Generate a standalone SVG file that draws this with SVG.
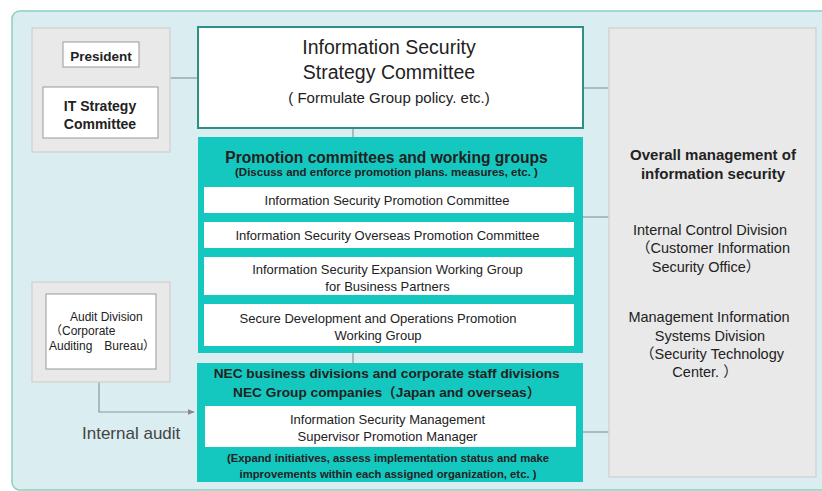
<svg xmlns="http://www.w3.org/2000/svg" width="822" height="491" viewBox="0 0 822 491">
<style>
text{font-family:"Liberation Sans",Arial,"Noto Sans CJK JP",sans-serif;fill:#222;text-anchor:middle}
.b{font-weight:bold}
.s{font-size:13px}
.gray{fill:#e9e9e9;stroke:#d3d3d3;stroke-width:1.5}
.wb{fill:#fff;stroke:#999;stroke-width:1}
.teal{fill:#14c8c0}
.sub{fill:#fff}
.ln{stroke:#8a9a9a;stroke-width:1.2;fill:none}
</style>
<defs>
<marker id="ah" viewBox="0 0 10 10" refX="9" refY="5" markerWidth="6" markerHeight="6" orient="auto">
<path d="M0,1 L10,5 L0,9 z" fill="#888"/>
</marker>
</defs>
<rect x="12" y="11" width="840" height="479" rx="8" fill="#daedf0" stroke="#8ccfc0" stroke-width="1.5"/>
<g id="connectors">
<line class="ln" x1="100" y1="67" x2="100" y2="87"/>
<line class="ln" x1="170" y1="78" x2="198" y2="78"/>
<line class="ln" x1="353" y1="128" x2="353" y2="137"/>
<line class="ln" x1="353" y1="353" x2="353" y2="363"/>
<line class="ln" x1="583" y1="88" x2="609" y2="88"/>
<line class="ln" x1="583" y1="217" x2="609" y2="217"/>
<line class="ln" x1="583" y1="432" x2="609" y2="432"/>
<path class="ln" d="M99,382 V412 H194" stroke="#888" marker-end="url(#ah)"/>
</g>
<g id="top-left">
<rect class="gray" x="32" y="28" width="138" height="124"/>
<g id="president">
<rect class="wb" x="63" y="42" width="76" height="25"/>
<text class="b" x="101" y="61" font-size="13.5">President</text>
</g>
<g id="it-strategy">
<rect class="wb" x="43" y="87" width="115" height="51"/>
<text class="b" x="100" y="111" font-size="14">IT Strategy</text>
<text class="b" x="100" y="129" font-size="14">Committee</text>
</g>
</g>
<g id="issc">
<rect x="198" y="27" width="385" height="101" fill="#fff" stroke="#2e8f86" stroke-width="2"/>
<text x="389" y="54" font-size="19.5">Information Security</text>
<text x="389" y="79" font-size="19.5">Strategy Committee</text>
<text x="389" y="103" font-size="15">( Formulate Group policy. etc.)</text>
</g>
<g id="promotion">
<rect class="teal" x="198" y="137" width="385" height="216"/>
<text class="b" x="386.5" y="162.5" font-size="15.6">Promotion committees and working groups</text>
<text class="b" x="386.5" y="176" font-size="11.5">(Discuss and enforce promotion plans. measures, etc. )</text>
<g id="ispc">
<rect class="sub" x="204" y="187" width="370" height="26"/>
<text class="s" x="387" y="204.5">Information Security Promotion Committee</text>
</g>
<g id="isopc">
<rect class="sub" x="204" y="222" width="370" height="26"/>
<text class="s" x="387.5" y="239.5">Information Security Overseas Promotion Committee</text>
</g>
<g id="isewg">
<rect class="sub" x="204" y="257" width="370" height="38"/>
<text class="s" x="387.5" y="273.5">Information Security Expansion Working Group</text>
<text class="s" x="387.5" y="290.5">for Business Partners</text>
</g>
<g id="sdopwg">
<rect class="sub" x="204" y="304" width="370" height="42"/>
<text class="s" x="378" y="322.5">Secure Development and Operations Promotion</text>
<text class="s" x="378" y="339.5">Working Group</text>
</g>
</g>
<g id="nec">
<rect class="teal" x="197" y="363" width="386" height="119"/>
<text class="b" x="386.7" y="378" font-size="13.7">NEC business divisions and corporate staff divisions</text>
<text class="b" x="386.7" y="397" font-size="13.7">NEC Group companies（Japan and overseas）</text>
<rect class="sub" x="205" y="406" width="371" height="41"/>
<text class="s" x="387.5" y="423.5">Information Security Management</text>
<text class="s" x="387.5" y="440.5">Supervisor Promotion Manager</text>
<text class="b" x="388" y="462" font-size="11.3">(Expand initiatives, assess implementation status and make</text>
<text class="b" x="388" y="478" font-size="11.3">improvements within each assigned organization, etc. )</text>
</g>
<g id="audit">
<rect class="gray" x="32" y="282" width="138" height="100"/>
<rect class="wb" x="46" y="294" width="110" height="75"/>
<text x="70" y="321" font-size="12" style="text-anchor:start">Audit Division</text>
<text x="50" y="335" font-size="12" style="text-anchor:start">（Corporate</text>
<text x="49" y="350" font-size="12" style="text-anchor:start">Auditing　Bureau）</text>
</g>
<g id="internal-audit-label">
<text x="82" y="439" font-size="17" fill="#444" style="text-anchor:start;fill:#444">Internal audit</text>
</g>
<g id="overall">
<rect class="gray" x="609" y="28" width="207" height="449"/>
<text class="b" x="713" y="159.5" font-size="15">Overall management of</text>
<text class="b" x="713" y="178.5" font-size="15">information security</text>
<text x="710" y="235" font-size="14.5">Internal Control Division</text>
<text x="713" y="253" font-size="14.5">（Customer Information</text>
<text x="706" y="272" font-size="14.5">Security Office）</text>
<text x="709" y="322" font-size="14.5">Management Information</text>
<text x="710" y="341" font-size="14.5">Systems Division</text>
<text x="712" y="359" font-size="14.5">（Security Technology</text>
<text x="705" y="377" font-size="14.5">Center. ）</text>
</g>
</svg>
